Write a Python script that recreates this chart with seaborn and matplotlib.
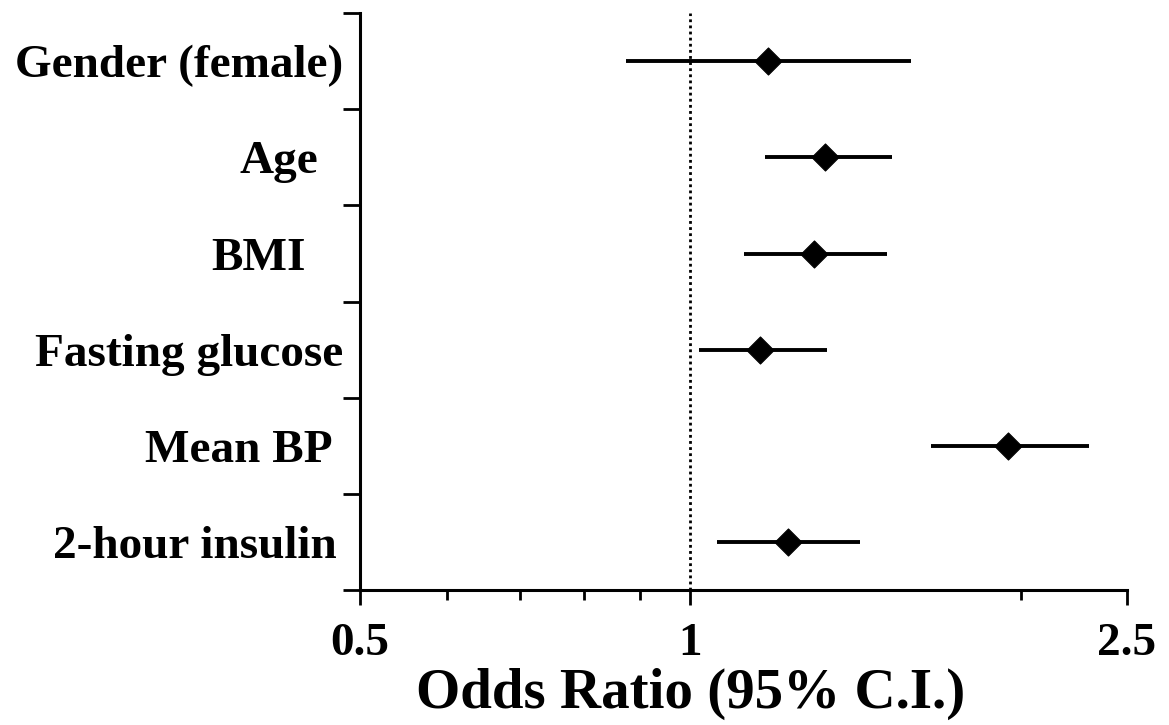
import matplotlib
matplotlib.use("Agg")
import matplotlib.pyplot as plt
import matplotlib.ticker as mticker
import matplotlib.transforms as mtransforms
import numpy as np
import pandas as pd
import seaborn as sns

# --- Data --------------------------------------------------------------------
factors = ["Gender (female)", "Age", "BMI", "Fasting glucose", "Mean BP", "2-hour insulin"]
odds_ratio = [1.178, 1.327, 1.297, 1.158, 1.948, 1.228]
ci_low = [0.873, 1.170, 1.120, 1.019, 1.658, 1.058]
ci_high = [1.589, 1.527, 1.511, 1.333, 2.308, 1.428]

major_ticks = [0.5, 1, 2.5]
major_labels = ["0.5", "1", "2.5"]
minor_ticks = [0.6, 0.7, 0.8, 0.9, 2]

df = pd.DataFrame({
    "factor": factors,
    "pos": range(len(factors)),
    "or": odds_ratio,
    "lo": ci_low,
    "hi": ci_high,
})

# --- Style ---------------------------------------------------------------
sns.set_style("ticks")
plt.rcParams["font.family"] = ["Liberation Serif", "DejaVu Serif"]
plt.rcParams["font.weight"] = "bold"
for key in ["text.color", "axes.labelcolor", "axes.edgecolor", "xtick.color", "ytick.color"]:
    plt.rcParams[key] = "black"

fig = plt.figure(figsize=(11.69, 7.25), dpi=100)
ax = fig.add_axes([0.308, 0.186, 0.656, 0.796])

# reference line at OR = 1
ax.axvline(1, color="black", linestyle=(0, (1, 1.2)), linewidth=2, zorder=1)

# confidence intervals
ax.hlines(df["pos"], df["lo"], df["hi"], color="black", linewidth=2.8, zorder=2)

# point estimates
sns.scatterplot(data=df, x="or", y="pos", marker="D", s=190, color="black",
                edgecolor="black", linewidth=0.8, zorder=3, ax=ax, legend=False)

# --- Axes -------------------------------------------------------------------
ax.set_xscale("log")
ax.set_xlim(0.5, 2.5)
ax.set_ylim(len(factors) - 0.5, -0.5)

ax.xaxis.set_major_locator(mticker.FixedLocator(major_ticks))
ax.xaxis.set_major_formatter(mticker.FixedFormatter(major_labels))
ax.xaxis.set_minor_locator(mticker.FixedLocator(minor_ticks))
ax.xaxis.set_minor_formatter(mticker.NullFormatter())

# boundary ticks on y, labels centred between them
ax.set_yticks([i - 0.5 for i in range(len(factors) + 1)])
ax.set_yticklabels([])
ax.set_yticks(list(df["pos"]), minor=True)
ax.set_yticklabels(factors, minor=True)

ax.tick_params(axis="x", which="major", length=11, width=2, labelsize=34, pad=13)
ax.tick_params(axis="x", which="minor", length=7, width=2)
ax.tick_params(axis="y", which="major", length=12, width=2)
ax.tick_params(axis="y", which="minor", length=0, labelsize=34, pad=12)

for lab in ax.get_xticklabels() + ax.get_yticklabels(minor=True):
    lab.set_fontweight("bold")

# the original labels are not all flush right; nudge them left (pixels)
label_shift = [0, -25, -38, 0, -11, -7]
for lab, dx in zip(ax.get_yticklabels(minor=True), label_shift):
    lab.set_transform(lab.get_transform()
                      + mtransforms.ScaledTranslation(dx / 100, 0, fig.dpi_scale_trans))

sns.despine(ax=ax)
for side in ["left", "bottom"]:
    ax.spines[side].set_linewidth(2.2)

ax.set_ylabel("")
ax.set_xlabel("Odds Ratio (95% C.I.)", fontsize=41, fontweight="bold")
# label is centred under OR = 1
x_frac = np.log(1 / 0.5) / np.log(2.5 / 0.5)
ax.xaxis.set_label_coords(x_frac, -0.135)

fig.savefig("out.png", dpi=100)
plt.close(fig)
